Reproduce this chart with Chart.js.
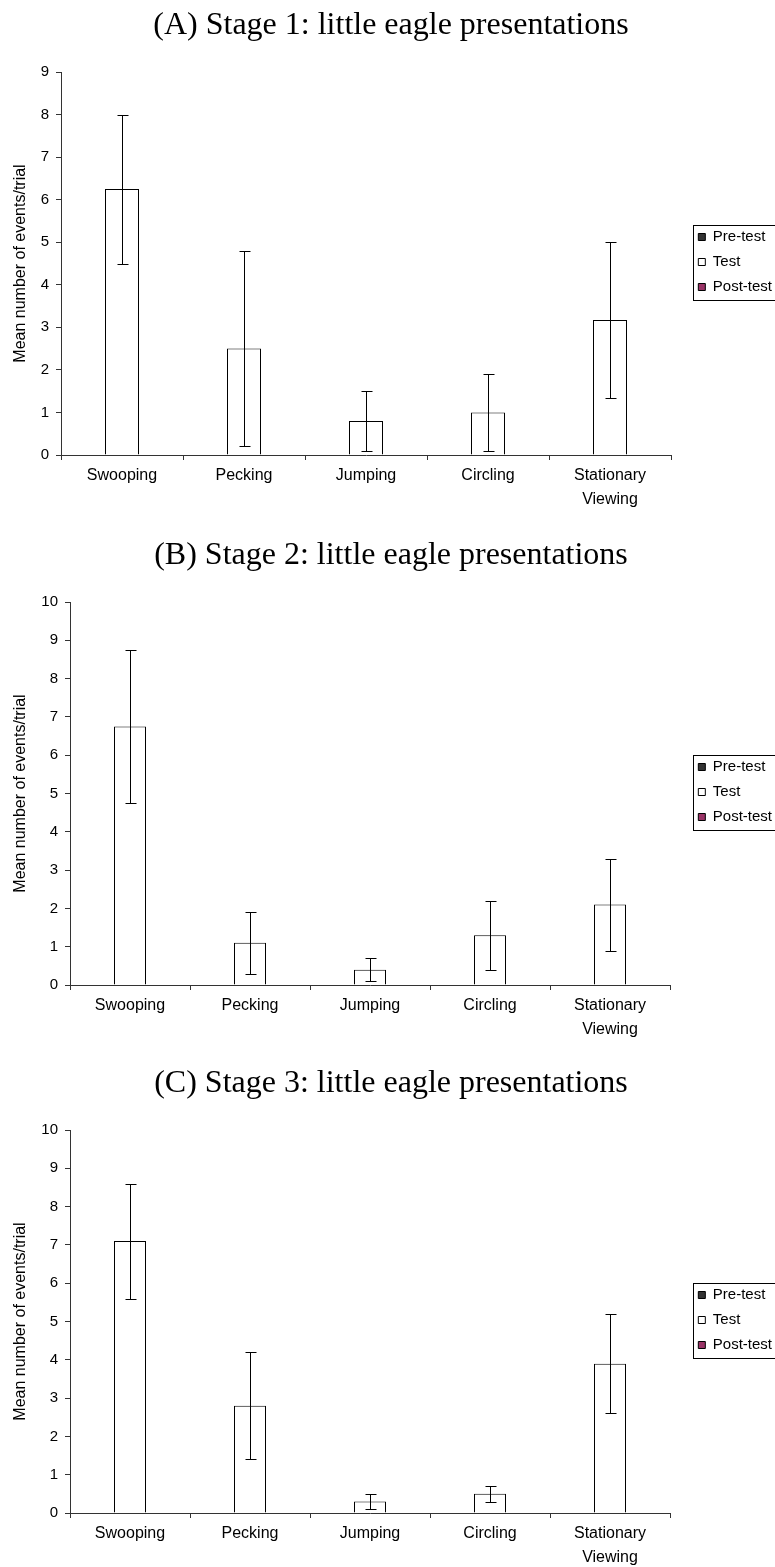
<!DOCTYPE html>
<html>
<head>
<meta charset="utf-8">
<title>Little eagle presentations</title>
<script src="https://cdn.jsdelivr.net/npm/chart.js@4.4.1/dist/chart.umd.min.js"></script>
<style>
  html, body { margin: 0; padding: 0; background: #fff; width: 775px; height: 1567px; overflow: hidden; }
  .panel { position: absolute; left: 0; }
  canvas { display: block; }
</style>
</head>
<body>
<div class="panel" style="top:-1px"><canvas id="stage1"></canvas></div>
<div class="panel" style="top:529px"><canvas id="stage2"></canvas></div>
<div class="panel" style="top:1057px"><canvas id="stage3"></canvas></div>
<script>
// ---- data ----
const categories = ['Swooping', 'Pecking', 'Jumping', 'Circling', 'Stationary Viewing'];
const seriesNames = ['Pre-test', 'Test', 'Post-test'];
const panelTitles = [
  '(A) Stage 1: little eagle presentations',
  '(B) Stage 2: little eagle presentations',
  '(C) Stage 3: little eagle presentations'
];
const yAxisTitle = 'Mean number of events/trial';
const yMaxByStage = [9, 10, 10];

// Pre-test and post-test phases have no values in these panels
const stage1Pre  = [null, null, null, null, null];
const stage1Test = [6.25, 2.5, 0.8, 1.0, 3.17];
const stage1Post = [null, null, null, null, null];
const stage1Err  = [1.75, 2.3, 0.7, 0.9, 1.83];

const stage2Pre  = [null, null, null, null, null];
const stage2Test = [6.75, 1.1, 0.4, 1.3, 2.1];
const stage2Post = [null, null, null, null, null];
const stage2Err  = [2.0, 0.8, 0.3, 0.9, 1.2];

const stage3Pre  = [null, null, null, null, null];
const stage3Test = [7.1, 2.8, 0.3, 0.5, 3.9];
const stage3Post = [null, null, null, null, null];
const stage3Err  = [1.5, 1.4, 0.2, 0.2, 1.3];

// ---- styling / layout ----
const SANS = '"Liberation Sans", Arial, sans-serif';
const SERIF = '"Liberation Serif", "Times New Roman", serif';
const SERIES_FILL = ['#333333', '#ffffff', '#993366'];
const AXIS_COLOR = '#333333';
const CANVAS_H = 526;
const PLOT_TOP = 73;
const PLOT_BOTTOM = 456;
const LEGEND_LEFT = 688;
const LEGEND_FONT = 15;
const LEGEND_BOX = 7;
const LEGEND_PAD = 10;
const TITLE_FONT = 32;
const TITLE_CENTER = 27;

// vertical whiskers with caps around the test bars
const errorBars = {
  id: 'errorBars',
  afterDatasetsDraw(chart, args, opts) {
    const meta = chart.getDatasetMeta(opts.datasetIndex);
    const values = chart.data.datasets[opts.datasetIndex].data;
    const y = chart.scales.y;
    const ctx = chart.ctx;
    ctx.save();
    ctx.strokeStyle = '#000';
    ctx.lineWidth = 1;
    meta.data.forEach((bar, i) => {
      const v = values[i], e = opts.errors[i];
      if (v == null || e == null) return;
      const x = Math.round(bar.x) + 0.5;
      const yTop = Math.round(y.getPixelForValue(v + e)) + 0.5;
      const yBot = Math.round(y.getPixelForValue(v - e)) + 0.5;
      ctx.beginPath();
      ctx.moveTo(x, yTop); ctx.lineTo(x, yBot);
      ctx.moveTo(x - 5, yTop); ctx.lineTo(x + 6, yTop);
      ctx.moveTo(x - 5, yBot); ctx.lineTo(x + 6, yBot);
      ctx.stroke();
    });
    ctx.restore();
  }
};

// thin frame around the legend entries
const legendFrame = {
  id: 'legendFrame',
  afterDraw(chart) {
    const boxes = chart.legend && chart.legend.legendHitBoxes;
    if (!boxes || !boxes.length) return;
    const left = Math.round(Math.min(...boxes.map(b => b.left)) - 5) + 0.5;
    const top = Math.round(boxes[0].top - 5) + 0.5;
    const last = boxes[boxes.length - 1];
    const bottom = Math.round(last.top + last.height + 5) + 0.5;
    const ctx = chart.ctx;
    ctx.save();
    ctx.strokeStyle = '#000';
    ctx.lineWidth = 1;
    ctx.strokeRect(left, top, chart.width + 10 - left, bottom - top);
    ctx.restore();
  }
};

function legendWidth() {
  const m = document.createElement('canvas').getContext('2d');
  m.font = LEGEND_FONT + 'px ' + SANS;
  const maxText = Math.max(...seriesNames.map(s => m.measureText(s).width));
  return LEGEND_PAD + LEGEND_BOX + LEGEND_FONT / 2 + maxText + 10;
}

function drawStage(canvasId, title, yMax, pre, test, post, errors, axisWidth, plotRight, barWidth) {
  const canvas = document.getElementById(canvasId);
  const W = Math.round(LEGEND_LEFT + legendWidth());
  canvas.width = W;
  canvas.height = CANVAS_H;
  canvas.style.width = W + 'px';
  canvas.style.height = CANVAS_H + 'px';

  const categoryWidth = (plotRight - axisWidth) / categories.length;
  const catPct = barWidth * 3 / categoryWidth;
  const titleLine = TITLE_FONT * 1.2;
  const titleTop = TITLE_CENTER - titleLine / 2;

  const series = [pre, test, post];
  new Chart(canvas, {
    type: 'bar',
    data: {
      labels: categories.map(c => c.includes(' ') ? c.split(' ') : c),
      datasets: series.map((data, k) => ({
        label: seriesNames[k],
        data: data,
        backgroundColor: SERIES_FILL[k],
        borderColor: '#000',
        borderWidth: 1,
        categoryPercentage: catPct,
        barPercentage: 1.0
      }))
    },
    options: {
      responsive: false,
      animation: false,
      devicePixelRatio: 1,
      layout: { padding: 0 },
      plugins: {
        title: {
          display: true,
          text: title,
          color: '#000',
          font: { family: SERIF, size: TITLE_FONT, weight: 'normal', lineHeight: 1.2 },
          padding: { top: titleTop, bottom: PLOT_TOP - titleTop - titleLine }
        },
        legend: {
          display: true,
          position: 'right',
          align: 'center',
          labels: {
            color: '#000',
            font: { family: SANS, size: LEGEND_FONT },
            boxWidth: LEGEND_BOX,
            boxHeight: LEGEND_BOX,
            padding: LEGEND_PAD
          }
        },
        tooltip: { enabled: false },
        errorBars: { datasetIndex: 1, errors: errors }
      },
      scales: {
        x: {
          grid: { display: true, drawOnChartArea: false, drawTicks: true, tickLength: 5, color: AXIS_COLOR, offset: true },
          border: { display: true, color: AXIS_COLOR, width: 1 },
          ticks: {
            color: '#000',
            font: { family: SANS, size: 16, lineHeight: 1.5 },
            padding: 4,
            maxRotation: 0,
            autoSkip: false
          },
          afterFit(s) { s.height = CANVAS_H - PLOT_BOTTOM; }
        },
        y: {
          min: 0,
          max: yMax,
          grid: { display: true, drawOnChartArea: false, drawTicks: true, tickLength: 5, color: AXIS_COLOR },
          border: { display: true, color: AXIS_COLOR, width: 1 },
          ticks: {
            stepSize: 1,
            color: '#000',
            font: { family: SANS, size: 15 },
            padding: 7
          },
          title: {
            display: true,
            text: yAxisTitle,
            color: '#000',
            font: { family: SANS, size: 16, lineHeight: 1.2 },
            padding: { top: 11, bottom: 0 }
          },
          afterFit(s) { s.width = axisWidth; }
        },
        // spacer between the plot and the legend
        gap: {
          type: 'linear',
          position: 'right',
          display: true,
          grid: { display: false },
          border: { display: false },
          ticks: { display: false },
          afterFit(s) {
            const lw = s.chart.legend ? s.chart.legend.width : 0;
            s.width = Math.max(0, s.chart.width - lw - plotRight);
          }
        }
      }
    },
    plugins: [errorBars, legendFrame]
  });
}

drawStage('stage1', panelTitles[0], yMaxByStage[0], stage1Pre, stage1Test, stage1Post, stage1Err, 61, 671, 34);
drawStage('stage2', panelTitles[1], yMaxByStage[1], stage2Pre, stage2Test, stage2Post, stage2Err, 70, 670, 32);
drawStage('stage3', panelTitles[2], yMaxByStage[2], stage3Pre, stage3Test, stage3Post, stage3Err, 70, 670, 32);
</script>
</body>
</html>
